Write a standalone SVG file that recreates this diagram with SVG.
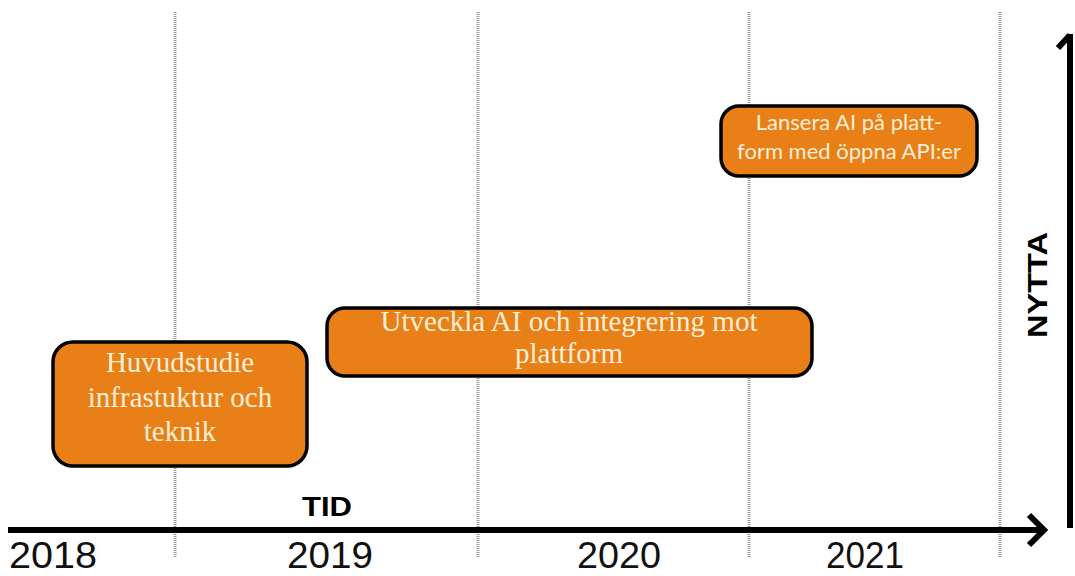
<svg xmlns="http://www.w3.org/2000/svg" width="1075" height="576" viewBox="0 0 1075 576">
<style>
.grid{stroke:#9a9a9a;stroke-width:3;stroke-dasharray:1 1;fill:none}
.box{fill:#E97F17;stroke:#000;stroke-width:3.5}
.serif{font-family:"Liberation Serif","DejaVu Serif",serif;font-size:29px;fill:#FCEFD8;text-anchor:middle}
.sans{font-family:Lato,"Open Sans","Liberation Sans",sans-serif;font-size:22px;fill:#FCEFD8;text-anchor:middle}
.year{font-family:"Liberation Sans",Arial,sans-serif;font-size:37px;fill:#111;text-anchor:middle}
.axislbl{font-family:"Liberation Sans",Arial,sans-serif;font-weight:bold;font-size:28px;fill:#000;text-anchor:middle}
.axis{stroke:#000;stroke-width:6;fill:none;stroke-linecap:butt}
.head{stroke:#000;stroke-width:6;fill:none;stroke-linejoin:miter}
</style>
<rect width="1075" height="576" fill="#fff"/>
<g id="gridlines">
<line class="grid" x1="175" y1="12" x2="175" y2="557"/>
<line class="grid" x1="478" y1="12" x2="478" y2="557"/>
<line class="grid" x1="749" y1="12" x2="749" y2="557"/>
<line class="grid" x1="1000" y1="12" x2="1000" y2="557"/>
</g>
<g id="connectors">
<line class="axis" x1="8" y1="530" x2="1043" y2="530"/>
<polyline class="head" points="1029,515 1044,530 1029,545"/>
<line class="axis" x1="1070" y1="528" x2="1070" y2="34"/>
<polyline class="head" points="1058,48 1070,35"/>
</g>
<g id="node-huvudstudie">
<rect class="box" x="53" y="342" width="254" height="124" rx="20"/>
<text class="serif" x="180" y="372">Huvudstudie</text>
<text class="serif" x="180" y="407">infrastuktur och</text>
<text class="serif" x="180" y="441">teknik</text>
</g>
<g id="node-utveckla">
<rect class="box" x="327" y="308" width="485" height="68" rx="18"/>
<text class="serif" x="569" y="331">Utveckla AI och integrering mot</text>
<text class="serif" x="569" y="363">plattform</text>
</g>
<g id="node-lansera">
<rect class="box" x="721" y="106" width="256" height="70" rx="18"/>
<text class="sans" x="849" y="130">Lansera AI på platt-</text>
<text class="sans" x="849" y="159">form med öppna API:er</text>
</g>
<g id="labels">
<text class="axislbl" x="327" y="516" textLength="50" lengthAdjust="spacingAndGlyphs">TID</text>
<text class="axislbl" transform="translate(1047,285) rotate(-90)" textLength="106" lengthAdjust="spacingAndGlyphs">NYTTA</text>
<text class="year" x="53" y="568" textLength="88" lengthAdjust="spacingAndGlyphs">2018</text>
<text class="year" x="330" y="568" textLength="86" lengthAdjust="spacingAndGlyphs">2019</text>
<text class="year" x="619" y="568" textLength="84" lengthAdjust="spacingAndGlyphs">2020</text>
<text class="year" x="865" y="568" textLength="78" lengthAdjust="spacingAndGlyphs">2021</text>
</g>
</svg>
